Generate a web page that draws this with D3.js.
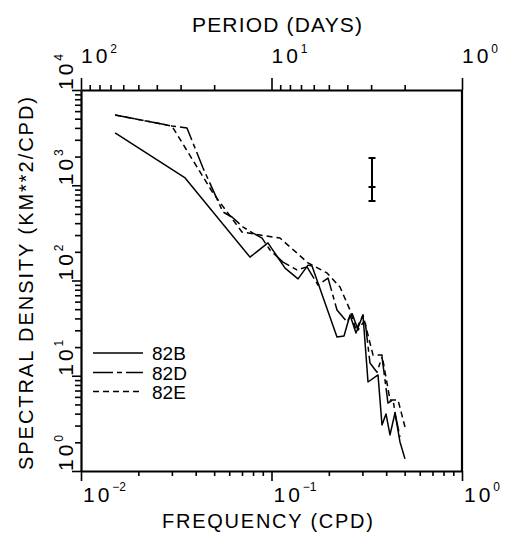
<!DOCTYPE html>
<html>
<head>
<meta charset="utf-8">
<script src="https://cdn.jsdelivr.net/npm/d3@7"></script>
<style>
  html, body { margin: 0; padding: 0; background: #fff; }
  svg { display: block; }
  text { font-family: "Liberation Sans", Arial, sans-serif; fill: #000; }
</style>
</head>
<body>
<div id="chart"></div>
<script>
// ---- Data ----
const freqB = [0.0151, 0.0352, 0.0771, 0.0958, 0.1178, 0.1378, 0.1555, 0.1632, 0.2207, 0.2402, 0.2583, 0.2777, 0.3021, 0.3211, 0.3623, 0.3803, 0.3990, 0.4188, 0.4449, 0.4726, 0.5021];
const densB = [3537, 1192, 176, 248, 135, 104, 145, 142, 25.5, 26.1, 43.4, 28.1, 43.4, 8.6, 10.2, 3.04, 3.97, 2.39, 4.06, 2.02, 1.34];

const freqD = [0.0151, 0.0300, 0.0360, 0.0437, 0.0556, 0.0620, 0.0709, 0.0800, 0.0892, 0.0982, 0.1149, 0.1361, 0.1536, 0.1754, 0.1980, 0.2207, 0.2491, 0.2646, 0.2845, 0.3095, 0.3289, 0.3579, 0.3803, 0.4088, 0.4343, 0.4503, 0.4726];
const densD = [5465, 4188, 3990, 1518, 524, 464, 364, 315, 279, 209, 156, 129, 139, 89.7, 106, 49.0, 36.7, 45.6, 30.2, 38.5, 13.6, 10.9, 15.7, 5.17, 5.57, 3.60, 2.28];

const freqE = [0.0151, 0.0300, 0.0493, 0.0700, 0.0870, 0.1108, 0.1361, 0.1555, 0.1956, 0.2288, 0.2583, 0.2777, 0.3021, 0.3411, 0.3803, 0.4188, 0.4613, 0.5021];
const densE = [5465, 4188, 829, 323, 300, 279, 194, 153, 120, 85.5, 49.0, 30.2, 43.4, 16.5, 16.5, 5.57, 5.57, 2.90];

const seriesNames = ["82B", "82D", "82E"];

// confidence bar
const errFreq = [0.337];
const errLow = [683];
const errMid = [959];
const errHigh = [1932];

// tick values
const freqMajor = [0.01, 0.1, 1];
const freqExp = ["−2", "−1", "0"];
const periodMajor = [100, 10, 1];
const periodExp = ["2", "1", "0"];
const densMajor = [1, 10, 100, 1000, 10000];
const densExp = ["0", "1", "2", "3", "4"];

// ---- Chart ----
const W = 505, H = 533;
const svg = d3.select("#chart").append("svg").attr("width", W).attr("height", H);

const x = d3.scaleLog().domain([0.01, 1]).range([81, 462]);
const y = d3.scaleLog().domain([1, 10000]).range([471, 90]);

function minorLog(lo, hi) {
  const out = [];
  for (let e = lo; e < hi; e++) for (let k = 1; k <= 9; k++) out.push(k * Math.pow(10, e));
  out.push(Math.pow(10, hi));
  return out;
}
const isMajor = v => Math.abs(Math.log10(v) - Math.round(Math.log10(v))) < 1e-9;

// bottom axis
const freqTicks = minorLog(-2, 0);
const gB = svg.append("g").attr("transform", `translate(0,${y.range()[0]})`)
  .call(d3.axisBottom(x).tickValues(freqTicks).tickFormat("").tickSizeOuter(0));
gB.selectAll(".tick line").attr("y2", d => isMajor(d) ? 10 : 5).attr("stroke-width", 1.6);
gB.select(".domain").attr("stroke-width", 2.2);

// top axis (period)
const periodTicks = minorLog(0, 2).reverse();
const gT = svg.append("g").attr("transform", `translate(0,${y.range()[1]})`)
  .call(d3.axisTop(x).tickValues(periodTicks.map(p => 1 / p)).tickFormat("").tickSizeOuter(0));
gT.selectAll(".tick line").attr("y2", d => isMajor(1 / d) ? -12 : -5).attr("stroke-width", 1.6);
gT.select(".domain").attr("stroke-width", 2.2);

// left axis
const densTicks = minorLog(0, 4);
const gL = svg.append("g").attr("transform", `translate(${x.range()[0]},0)`)
  .call(d3.axisLeft(y).tickValues(densTicks).tickFormat("").tickSizeOuter(0));
gL.selectAll(".tick line").attr("x2", d => isMajor(d) ? -9 : -6).attr("stroke-width", 1.6);
gL.select(".domain").attr("stroke-width", 2.2);

// right border
svg.append("line")
  .attr("x1", x.range()[1]).attr("x2", x.range()[1])
  .attr("y1", y.range()[1]).attr("y2", y.range()[0])
  .attr("stroke", "#000").attr("stroke-width", 2.2);

// bottom tick labels
freqMajor.forEach((v, i) => {
  const t = svg.append("text").attr("x", x(v) + 2).attr("y", 502).attr("font-size", 21);
  t.append("tspan").style("letter-spacing", "3px").text("10");
  t.append("tspan").attr("dy", -11).attr("font-size", 12).text(freqExp[i]);
});
// top tick labels
periodMajor.forEach((p, i) => {
  const t = svg.append("text").attr("x", x(1 / p)).attr("y", 63).attr("font-size", 21);
  t.append("tspan").style("letter-spacing", "3px").text("10");
  t.append("tspan").attr("dy", -10).attr("font-size", 12).text(periodExp[i]);
});
// left tick labels (rotated)
densMajor.forEach((v, i) => {
  const t = svg.append("text")
    .attr("transform", `translate(73,${y(v)}) rotate(-90)`)
    .attr("x", 0).attr("y", 0).attr("font-size", 21);
  t.append("tspan").style("letter-spacing", "3px").text("10");
  t.append("tspan").attr("dy", -10).attr("font-size", 12).text(densExp[i]);
});

// axis titles
svg.append("text").attr("x", 267.5).attr("y", 528).attr("text-anchor", "middle")
  .attr("font-size", 20).attr("textLength", 211).attr("lengthAdjust", "spacing")
  .text("FREQUENCY (CPD)");
svg.append("text").attr("x", 277).attr("y", 32).attr("text-anchor", "middle")
  .attr("font-size", 21).attr("textLength", 170).attr("lengthAdjust", "spacing")
  .text("PERIOD (DAYS)");
svg.append("text").attr("transform", "translate(33,283.5) rotate(-90)")
  .attr("text-anchor", "middle")
  .attr("font-size", 20).attr("textLength", 373).attr("lengthAdjust", "spacing")
  .text("SPECTRAL DENSITY (KM**2/CPD)");

// series
const dashes = ["none", "20,4,5,4", "6,4"];
const series = [
  { f: freqB, v: densB },
  { f: freqD, v: densD },
  { f: freqE, v: densE }
];
const line = d3.line().x(d => x(d[0])).y(d => y(d[1]));
series.forEach((s, i) => {
  svg.append("path")
    .attr("d", line(s.f.map((f, j) => [f, s.v[j]])))
    .attr("fill", "none").attr("stroke", "#000").attr("stroke-width", 1.5)
    .attr("stroke-linejoin", "round")
    .attr("stroke-dasharray", dashes[i]);
});

// error bar
errFreq.forEach((f, i) => {
  const cx = x(f);
  const g = svg.append("g").attr("stroke", "#000").attr("stroke-width", 2);
  g.append("line").attr("x1", cx).attr("x2", cx).attr("y1", y(errHigh[i])).attr("y2", y(errLow[i]));
  [errHigh[i], errMid[i], errLow[i]].forEach(v => {
    g.append("line").attr("x1", cx - 3.5).attr("x2", cx + 3.5).attr("y1", y(v)).attr("y2", y(v));
  });
});

// legend
const legY = [353, 372.5, 391.5];
seriesNames.forEach((n, i) => {
  svg.append("line").attr("x1", 93).attr("x2", 143).attr("y1", legY[i]).attr("y2", legY[i])
    .attr("stroke", "#000").attr("stroke-width", 1.5).attr("stroke-dasharray", dashes[i]);
  svg.append("text").attr("x", 152).attr("y", legY[i] + 7).attr("font-size", 19).text(n);
});
</script>
</body>
</html>
